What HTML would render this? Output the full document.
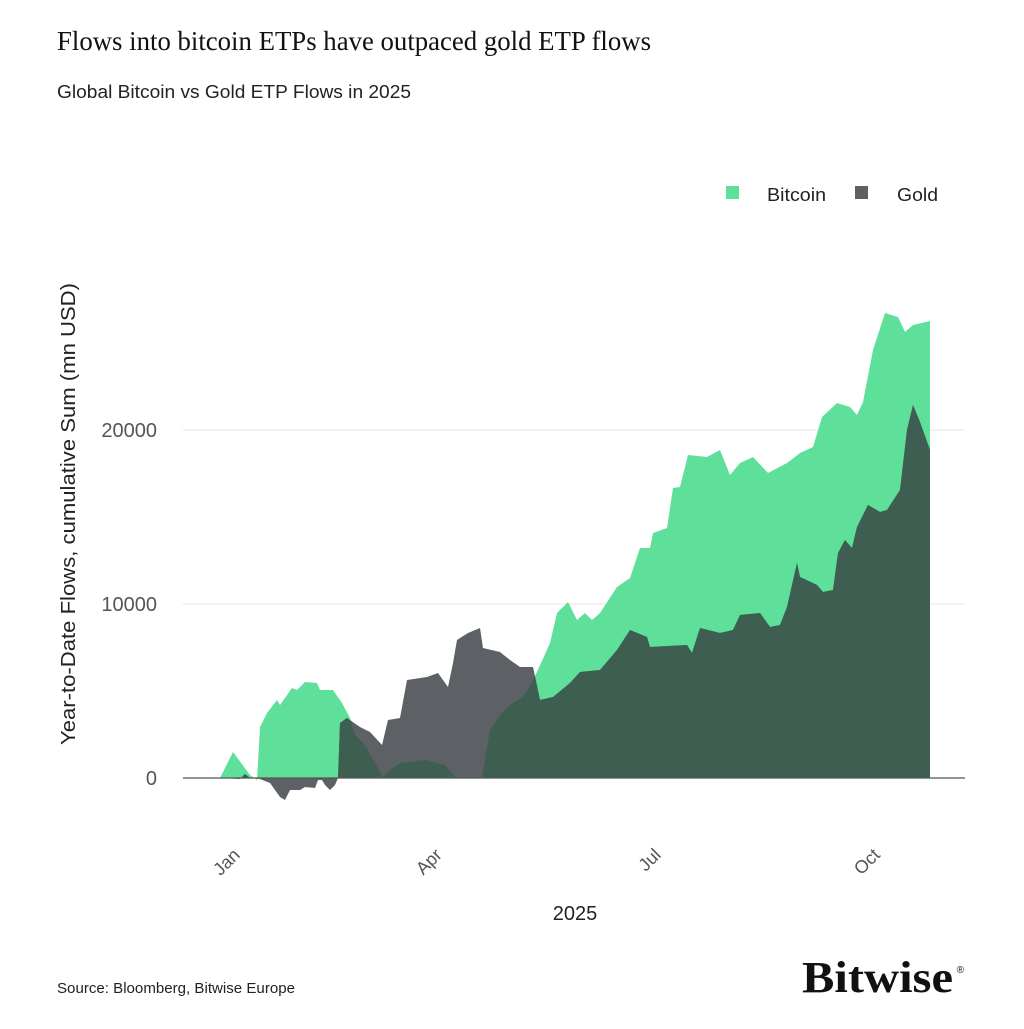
<!DOCTYPE html>
<html><head><meta charset="utf-8"><style>
html,body{margin:0;padding:0;background:#fff;}
body{width:1024px;height:1024px;overflow:hidden;}
</style></head><body>
<svg width="1024" height="1024" viewBox="0 0 1024 1024" xmlns="http://www.w3.org/2000/svg">
<text x="57" y="50" font-family="Liberation Serif, serif" font-size="27" fill="#111" textLength="594" lengthAdjust="spacingAndGlyphs">Flows into bitcoin ETPs have outpaced gold ETP flows</text>
<text x="57" y="98" font-family="Liberation Sans, sans-serif" font-size="18" fill="#222" textLength="354" lengthAdjust="spacingAndGlyphs">Global Bitcoin vs Gold ETP Flows in 2025</text>
<rect x="726" y="186" width="13" height="13" fill="#5fe09a"/>
<text x="767" y="201" font-family="Liberation Sans, sans-serif" font-size="18" fill="#222" textLength="59" lengthAdjust="spacingAndGlyphs">Bitcoin</text>
<rect x="855" y="186" width="13" height="13" fill="#5d6064"/>
<text x="897" y="201" font-family="Liberation Sans, sans-serif" font-size="18" fill="#222" textLength="41" lengthAdjust="spacingAndGlyphs">Gold</text>
<line x1="183" y1="430" x2="965" y2="430" stroke="#e6e6e6" stroke-width="1"/>
<line x1="183" y1="604" x2="965" y2="604" stroke="#e6e6e6" stroke-width="1"/>
<defs>
<clipPath id="btc"><polygon points="220,778 233,752 250,775 257,780 260,727 267,713 277,700 280,705 292,688 297,690 305,682 317,683 320,690 333,690 342,703 350,718 355,735 365,745 383,777 390,770 400,763 425,760 445,765 455,777 482,778 485,760 490,730 500,715 510,705 525,695 537,672 550,643 557,613 568,602 577,620 585,613 592,620 600,613 617,587 630,578 640,548 650,548 653,533 667,528 673,488 680,487 688,455 707,457 720,450 730,475 740,463 753,457 768,473 787,463 800,453 813,447 822,417 837,403 850,407 857,415 863,402 873,350 885,313 898,317 905,332 913,325 930,321 930,778"/></clipPath>
</defs>
<polygon points="220,778 233,752 250,775 257,780 260,727 267,713 277,700 280,705 292,688 297,690 305,682 317,683 320,690 333,690 342,703 350,718 355,735 365,745 383,777 390,770 400,763 425,760 445,765 455,777 482,778 485,760 490,730 500,715 510,705 525,695 537,672 550,643 557,613 568,602 577,620 585,613 592,620 600,613 617,587 630,578 640,548 650,548 653,533 667,528 673,488 680,487 688,455 707,457 720,450 730,475 740,463 753,457 768,473 787,463 800,453 813,447 822,417 837,403 850,407 857,415 863,402 873,350 885,313 898,317 905,332 913,325 930,321 930,778" fill="#5fe09a"/>
<polygon points="220,778 240,779 245,774 250,778 260,779 270,783 280,797 285,800 290,790 300,790 305,787 315,788 318,780 322,780 325,785 330,790 335,785 338,778 340,723 347,718 360,727 370,732 382,745 388,720 400,718 407,680 427,677 438,673 448,687 453,663 457,640 468,633 480,628 483,648 500,652 510,660 520,667 533,667 540,700 553,697 570,683 580,672 600,670 617,650 630,630 647,637 650,647 687,645 692,653 700,628 720,633 733,630 740,615 760,613 770,627 780,625 787,607 797,563 800,577 817,585 823,592 833,590 838,553 845,540 852,548 857,527 868,505 880,512 887,510 900,490 907,430 913,405 920,422 930,450 930,778" fill="#5d6064"/>
<g clip-path="url(#btc)">
<polygon points="220,778 240,779 245,774 250,778 260,779 270,783 280,797 285,800 290,790 300,790 305,787 315,788 318,780 322,780 325,785 330,790 335,785 338,778 340,723 347,718 360,727 370,732 382,745 388,720 400,718 407,680 427,677 438,673 448,687 453,663 457,640 468,633 480,628 483,648 500,652 510,660 520,667 533,667 540,700 553,697 570,683 580,672 600,670 617,650 630,630 647,637 650,647 687,645 692,653 700,628 720,633 733,630 740,615 760,613 770,627 780,625 787,607 797,563 800,577 817,585 823,592 833,590 838,553 845,540 852,548 857,527 868,505 880,512 887,510 900,490 907,430 913,405 920,422 930,450 930,778" fill="#3f5e52"/>
</g>
<line x1="183" y1="778" x2="965" y2="778" stroke="#555" stroke-width="1.2"/>
<g font-family="Liberation Sans, sans-serif" font-size="20" fill="#555" text-anchor="end">
<text x="157" y="785">0</text>
<text x="157" y="611">10000</text>
<text x="157" y="437">20000</text>
</g>
<text transform="translate(75,514) rotate(-90)" text-anchor="middle" font-family="Liberation Sans, sans-serif" font-size="20" fill="#222" textLength="462" lengthAdjust="spacingAndGlyphs">Year-to-Date Flows, cumulative Sum (mn USD)</text>
<g font-family="Liberation Sans, sans-serif" font-size="18" fill="#555" text-anchor="end">
<text transform="translate(241,856) rotate(-45)">Jan</text>
<text transform="translate(443,856) rotate(-45)">Apr</text>
<text transform="translate(662,856) rotate(-45)">Jul</text>
<text transform="translate(881,856) rotate(-45)">Oct</text>
</g>
<text x="575" y="920" text-anchor="middle" font-family="Liberation Sans, sans-serif" font-size="20" fill="#222">2025</text>
<text x="57" y="993" font-family="Liberation Sans, sans-serif" font-size="15" fill="#222" textLength="238" lengthAdjust="spacingAndGlyphs">Source: Bloomberg, Bitwise Europe</text>
<text x="802" y="992" font-family="Liberation Serif, serif" font-weight="bold" font-size="44" fill="#111" textLength="151" lengthAdjust="spacingAndGlyphs">Bitwise</text>
<text x="964" y="973" text-anchor="end" font-family="Liberation Sans, sans-serif" font-size="10" fill="#111">®</text>
</svg>
</body></html>
